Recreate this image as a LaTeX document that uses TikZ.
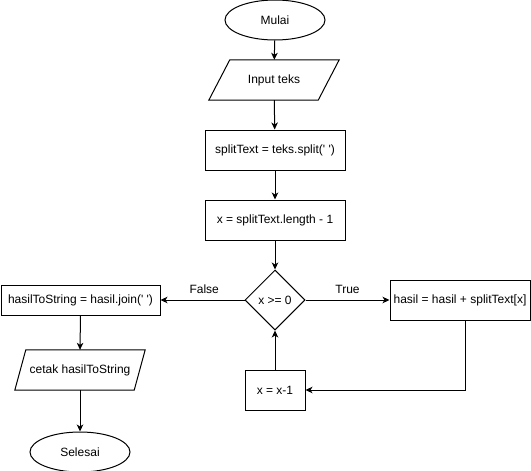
\documentclass[tikz,border=0pt]{standalone}
\usepackage{fontspec}
\setmainfont{Liberation Sans}
\usetikzlibrary{shapes.geometric,arrows.meta}
\begin{document}
\begin{tikzpicture}[x=1pt,y=-1pt,
  every node/.style={font=\fontsize{12}{14}\selectfont, inner sep=0pt},
  procbox/.style={draw, line width=1pt, rectangle, minimum width=#1, minimum height=40},
  procbox/.default=140,
  termbox/.style={draw, line width=1pt, ellipse, minimum width=100, minimum height=40},
  iobox/.style={rectangle, minimum width=#1, minimum height=40},
  decbox/.style={draw, line width=1pt, diamond, minimum width=60, minimum height=60},
  flow/.style={line width=1pt, -{Stealth[length=7pt,width=6.5pt,inset=2pt]}},
  lbl/.style={above=5.5pt, inner sep=0pt}
]
\useasboundingbox (0,0) rectangle (531,471);

\node[termbox] (mulai) at (275,20) {Mulai};
\node[iobox=130] (inp) at (274,80) {Input teks};
\draw[line width=1pt, line join=miter] (inp.south west) -- ([xshift=21pt]inp.north west) -- (inp.north east) -- ([xshift=-21pt]inp.south east) -- cycle;
\node[procbox] (split) at (275,150) {splitText = teks.split(\textquotesingle\ \textquotesingle)};
\node[procbox] (xlen) at (275,220) {x = splitText.length - 1};
\node[decbox] (dec) at (275,300) {x >= 0};
\node[procbox] (hasil) at (460,300.5) {hasil = hasil + splitText[x]};
\node[procbox=60] (xm1) at (275,390) {x = x-1};
\node[procbox=159, minimum height=30] (hts) at (80.5,300) {hasilToString = hasil.join(\textquotesingle\ \textquotesingle)};
\node[iobox=130] (cetak) at (80,370) {cetak hasilToString};
\draw[line width=1pt, line join=miter] (cetak.south west) -- ([xshift=11pt]cetak.north west) -- (cetak.north east) -- ([xshift=-11pt]cetak.south east) -- cycle;
\node[termbox] (selesai) at (80,452) {Selesai};

\draw[flow] (mulai) -- (inp);
\draw[flow] (inp) -- (split);
\draw[flow] (split) -- (xlen);
\draw[flow] (xlen) -- (dec);
\draw[flow] (dec.west) -- node[lbl, pos=0.48] {False} (hts.east);
\draw[flow] (dec.east) -- node[lbl, pos=0.5] {True} (hasil.west |- dec.east);
\draw[flow] ([xshift=5pt]hasil.south) |- (xm1.east);
\draw[flow] (xm1) -- (dec);
\draw[flow] (hts.south) -- (cetak.north);
\draw[flow] (cetak) -- (selesai);
\end{tikzpicture}
\end{document}
